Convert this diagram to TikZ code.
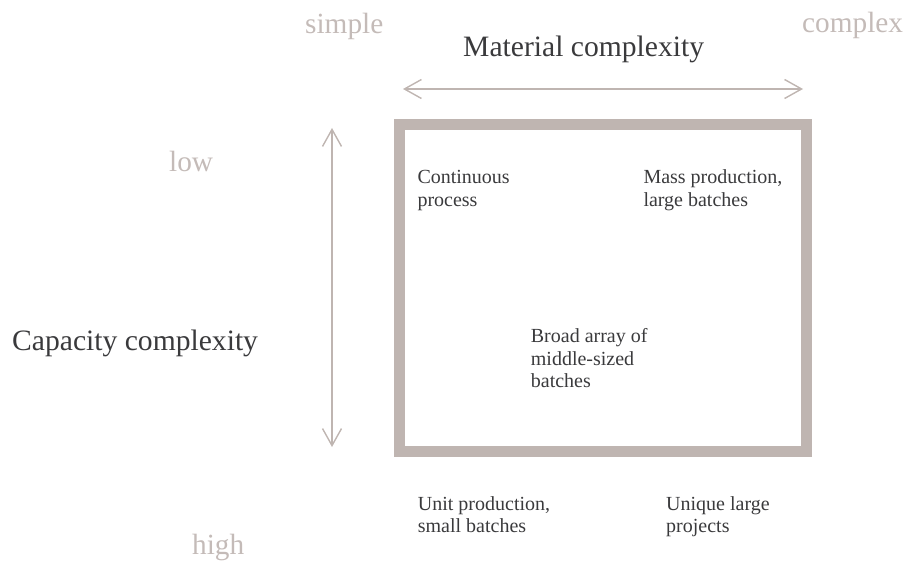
\documentclass[tikz,border=0pt]{standalone}
\usepackage{fontspec}
\setmainfont{Liberation Serif}
\usetikzlibrary{arrows.meta}
\definecolor{boxgray}{HTML}{BFB5B1}
\definecolor{lightlab}{HTML}{C4BBB8}
\definecolor{darktext}{HTML}{3A3A3C}
\begin{document}
\begin{tikzpicture}[x=1pt,y=-1pt,
  biglabel/.style={inner sep=0pt, text=darktext, font=\fontsize{29.6}{34}\selectfont},
  endlabel/.style={inner sep=0pt, text=lightlab, font=\fontsize{29.3}{34}\selectfont},
  cell/.style={inner sep=0pt, anchor=base west, text=darktext, font=\fontsize{20}{22.7}\selectfont},
  axisarrow/.style={draw=boxgray, line width=1.4pt, {Straight Barb[length=17pt,width=19pt]}-{Straight Barb[length=17pt,width=19pt]}},
  frame/.style={draw=boxgray, line width=11pt}
]
\useasboundingbox (0,0) rectangle (907,561);
% box
\draw[frame] (399.5,125) rectangle (806.5,451.5);
% labels
\node[biglabel, anchor=base west] (mat) at (463,57) {Material complexity};
\node[biglabel, anchor=base west] (cap) at (12,350) {Capacity complexity};
\node[endlabel, anchor=base west] (simple) at (305,34) {simple};
\node[endlabel, anchor=base west] (complex) at (802,33) {complex};
\node[endlabel, anchor=base west] (low) at (169,172) {low};
\node[endlabel, anchor=base west] (high) at (192,554) {high};
% axis arrows
\coordinate (hl) at (403,89);
\coordinate (hr) at (803,89);
\coordinate (vt) at (332,128);
\coordinate (vb) at (332,447);
\draw[axisarrow] (hl) -- (hr);
\draw[axisarrow] (vt) -- (vb);
% cells
\node[cell] (cont) at (417.3,184) {\begin{tabular}[t]{@{}l@{}}Continuous\\process\end{tabular}};
\node[cell] (mass) at (643.3,184) {\begin{tabular}[t]{@{}l@{}}Mass production,\\large batches\end{tabular}};
\node[cell] (broad) at (530.7,342.3) {\begin{tabular}[t]{@{}l@{}}Broad array of\\middle-sized\\batches\end{tabular}};
\node[cell] (unit) at (417.7,510) {\begin{tabular}[t]{@{}l@{}}Unit production,\\small batches\end{tabular}};
\node[cell] (uniq) at (666,510) {\begin{tabular}[t]{@{}l@{}}Unique large\\projects\end{tabular}};
\end{tikzpicture}
\end{document}
